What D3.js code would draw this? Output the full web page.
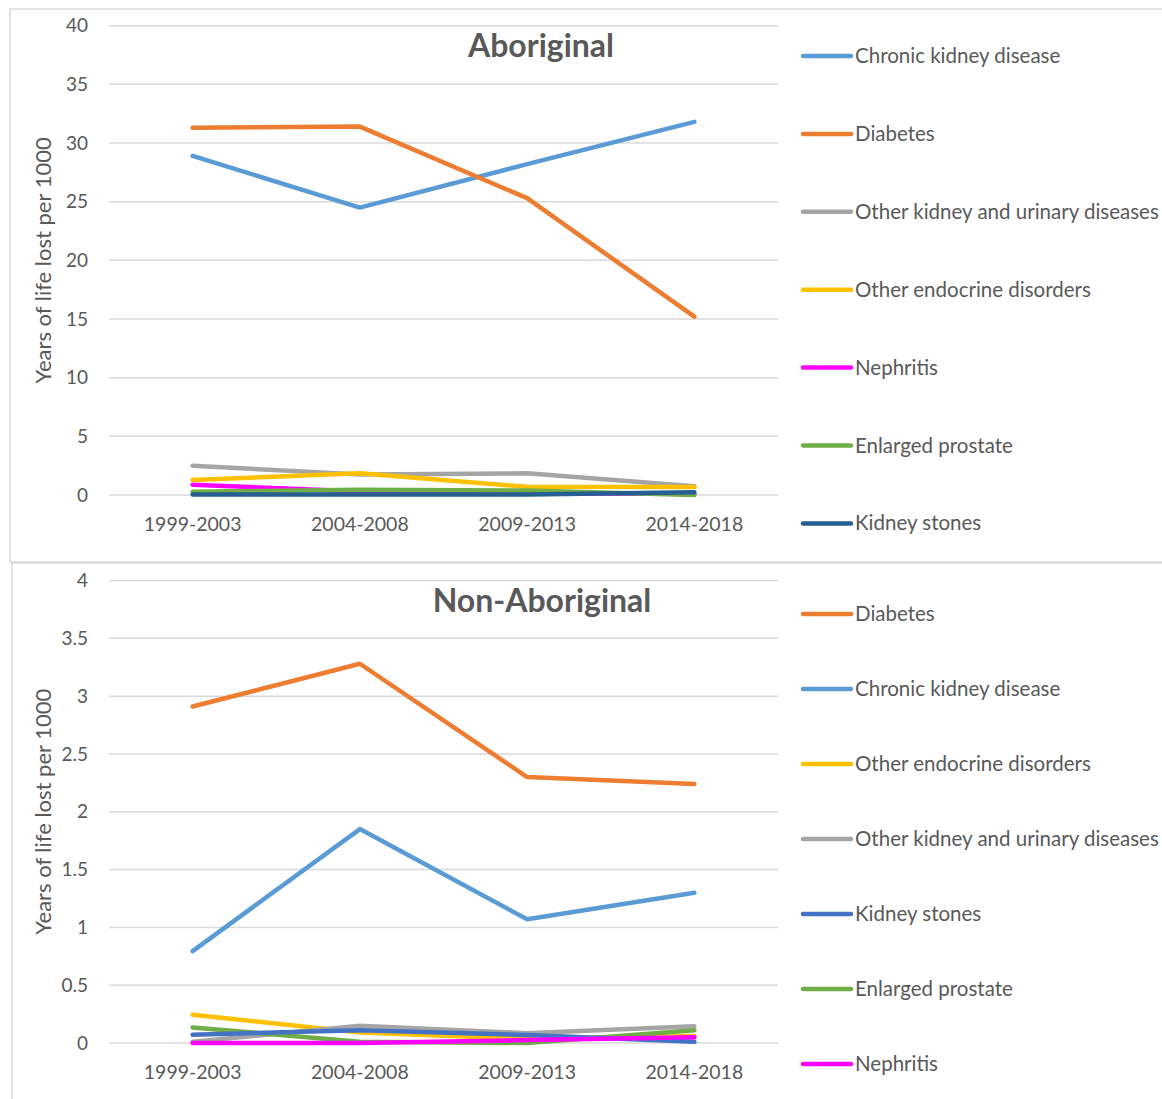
<!DOCTYPE html>
<html>
<head>
<meta charset="utf-8">
<script src="https://cdn.jsdelivr.net/npm/d3@7"></script>
<style>
  html, body { margin: 0; padding: 0; background: #fff; }
  svg { display: block; }
  text { font-family: Lato, "Open Sans", sans-serif; fill: #595959; }
</style>
</head>
<body>
<svg id="chart" width="1162" height="1099"></svg>
<script>
// Periods shared by both panels
const periods = ["1999-2003", "2004-2008", "2009-2013", "2014-2018"];

// Aboriginal: years of life lost per 1000
const aboCKD        = [28.9, 24.5, 28.2, 31.8];
const aboDiabetes   = [31.3, 31.4, 25.3, 15.2];
const aboOtherKid   = [2.5, 1.75, 1.85, 0.75];
const aboEndocrine  = [1.28, 1.85, 0.7, 0.68];
const aboNephritis  = [0.88, 0.3, 0.15, 0.1];
const aboProstate   = [0.28, 0.45, 0.38, 0.0];
const aboStones     = [0.05, 0.05, 0.05, 0.23];
const aboTicks      = [0, 5, 10, 15, 20, 25, 30, 35, 40];

// Non-Aboriginal: years of life lost per 1000
const nonDiabetes   = [2.91, 3.28, 2.30, 2.24];
const nonCKD        = [0.795, 1.85, 1.07, 1.30];
const nonEndocrine  = [0.245, 0.09, 0.035, 0.06];
const nonOtherKid   = [0.01, 0.15, 0.085, 0.145];
const nonStones     = [0.072, 0.11, 0.07, 0.01];
const nonProstate   = [0.135, 0.01, 0.0, 0.11];
const nonNephritis  = [0.0, 0.0, 0.025, 0.05];
const nonTicks      = [0, 0.5, 1, 1.5, 2, 2.5, 3, 3.5, 4];

const svg = d3.select("#chart");
const FONT = "Lato, 'Open Sans', sans-serif";

function drawPanel(cfg) {
  const g = svg.append("g");

  // outer frame
  g.append("rect")
    .attr("x", cfg.frame[0]).attr("y", cfg.frame[1])
    .attr("width", cfg.frame[2]).attr("height", cfg.frame[3])
    .attr("fill", "#fff").attr("stroke", "#d9d9d9").attr("stroke-width", 1.5);

  const x = d3.scaleBand().domain(periods).range([109, 778]);
  const y = d3.scaleLinear().domain([0, cfg.max]).range([cfg.y0, cfg.yTop]);

  // gridlines
  g.append("g").selectAll("line").data(cfg.ticks).join("line")
    .attr("x1", 109).attr("x2", 778)
    .attr("y1", d => y(d)).attr("y2", d => y(d))
    .attr("stroke", "#d9d9d9").attr("stroke-width", 1.5);

  // y axis labels
  const yAxis = d3.axisLeft(y).tickValues(cfg.ticks).tickSize(0).tickPadding(0)
    .tickFormat(d => String(d));
  const ya = g.append("g").attr("transform", "translate(88,0)").call(yAxis);
  ya.select(".domain").remove();
  ya.selectAll("text").attr("font-size", 19).attr("fill", "#595959")
    .style("font-family", FONT);

  // x axis labels
  const xAxis = d3.axisBottom(x).tickSize(0).tickPadding(0);
  const xa = g.append("g").attr("transform", `translate(0,${cfg.y0 + 22})`).call(xAxis);
  xa.select(".domain").remove();
  xa.selectAll("text").attr("font-size", 19.5).attr("fill", "#595959")
    .style("font-family", FONT);

  // y axis title
  g.append("text")
    .attr("transform", `translate(51,${(cfg.y0 + cfg.yTop) / 2}) rotate(-90)`)
    .attr("text-anchor", "middle")
    .attr("font-size", 22)
    .text("Years of life lost per 1000");

  // title
  g.append("text")
    .attr("x", cfg.titleX).attr("y", cfg.titleY)
    .attr("text-anchor", "middle")
    .attr("font-size", 32).attr("font-weight", "bold")
    .text(cfg.title);

  const line = d3.line()
    .x((d, i) => x(periods[i]) + x.bandwidth() / 2)
    .y(d => y(d));

  // draw order keeps the larger series on top of the cluster near zero
  const drawOrder = cfg.drawOrder || cfg.series.map((s, i) => i).reverse();
  drawOrder.forEach(i => {
    const s = cfg.series[i];
    g.append("path").datum(s.values)
      .attr("d", line)
      .attr("fill", "none")
      .attr("stroke", s.color)
      .attr("stroke-width", 4.5)
      .attr("stroke-linecap", "round")
      .attr("stroke-linejoin", "round");
  });

  // legend
  cfg.series.forEach((s, i) => {
    const ly = cfg.legendY + i * cfg.legendStep;
    g.append("line")
      .attr("x1", 803).attr("x2", 851)
      .attr("y1", ly).attr("y2", ly)
      .attr("stroke", s.color).attr("stroke-width", 4.5)
      .attr("stroke-linecap", "round");
    g.append("text")
      .attr("x", 855).attr("y", ly + 7)
      .attr("font-size", 20.5)
      .text(s.name);
  });
}

drawPanel({
  frame: [10, 9, 1170, 553],
  title: "Aboriginal", titleX: 541, titleY: 57,
  max: 40, ticks: aboTicks, y0: 495, yTop: 25.7,
  legendY: 56, legendStep: 77.9,
  series: [
    { name: "Chronic kidney disease", values: aboCKD, color: "#5B9BD5" },
    { name: "Diabetes", values: aboDiabetes, color: "#ED7D31" },
    { name: "Other kidney and urinary diseases", values: aboOtherKid, color: "#A5A5A5" },
    { name: "Other endocrine disorders", values: aboEndocrine, color: "#FFC000" },
    { name: "Nephritis", values: aboNephritis, color: "#FF00FF" },
    { name: "Enlarged prostate", values: aboProstate, color: "#70AD47" },
    { name: "Kidney stones", values: aboStones, color: "#255E91" }
  ],
  drawOrder: [2, 4, 3, 5, 6, 0, 1]
});

drawPanel({
  frame: [12, 563, 1170, 560],
  title: "Non-Aboriginal", titleX: 542, titleY: 612,
  max: 4, ticks: nonTicks, y0: 1043, yTop: 580.5,
  legendY: 614, legendStep: 75,
  series: [
    { name: "Diabetes", values: nonDiabetes, color: "#ED7D31" },
    { name: "Chronic kidney disease", values: nonCKD, color: "#5B9BD5" },
    { name: "Other endocrine disorders", values: nonEndocrine, color: "#FFC000" },
    { name: "Other kidney and urinary diseases", values: nonOtherKid, color: "#A5A5A5" },
    { name: "Kidney stones", values: nonStones, color: "#4472C4" },
    { name: "Enlarged prostate", values: nonProstate, color: "#70AD47" },
    { name: "Nephritis", values: nonNephritis, color: "#FF00FF" }
  ],
  drawOrder: [2, 3, 5, 4, 6, 1, 0]
});
</script>
</body>
</html>
